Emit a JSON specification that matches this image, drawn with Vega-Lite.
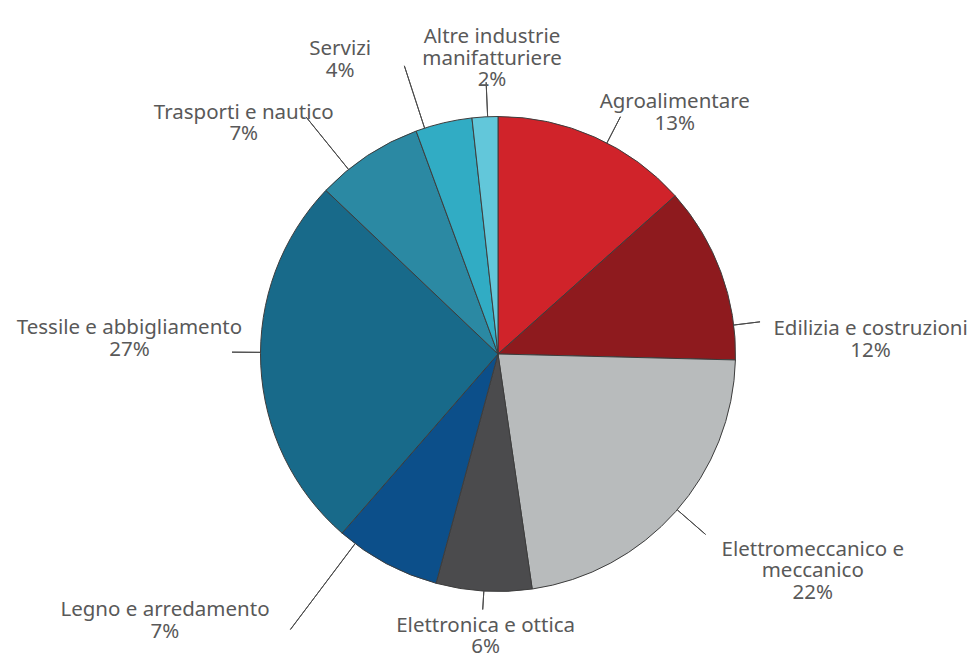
{
  "$schema": "https://vega.github.io/schema/vega-lite/v6.json",
  "width": 958,
  "height": 606,
  "autosize": "none",
  "padding": {"left": 19, "top": 51, "right": 0, "bottom": 0},
  "background": "white",
  "config": {"view": {"stroke": null}},
  "data": {
    "values": [
      {"ord": 1, "settore": "Agroalimentare", "quota": 13.4, "etichetta": "Agroalimentare\n13%"},
      {"ord": 2, "settore": "Edilizia e costruzioni", "quota": 12.0, "etichetta": "Edilizia e costruzioni\n12%"},
      {"ord": 3, "settore": "Elettromeccanico e meccanico", "quota": 22.3, "etichetta": "Elettromeccanico e\nmeccanico\n22%"},
      {"ord": 4, "settore": "Elettronica e ottica", "quota": 6.5, "etichetta": "Elettronica e ottica\n6%"},
      {"ord": 5, "settore": "Legno e arredamento", "quota": 7.2, "etichetta": "Legno e arredamento\n7%"},
      {"ord": 6, "settore": "Tessile e abbigliamento", "quota": 25.7, "etichetta": "Tessile e abbigliamento\n27%"},
      {"ord": 7, "settore": "Trasporti e nautico", "quota": 7.3, "etichetta": "Trasporti e nautico\n7%"},
      {"ord": 8, "settore": "Servizi", "quota": 3.85, "etichetta": "Servizi\n4%"},
      {"ord": 9, "settore": "Altre industrie manifatturiere", "quota": 1.75, "etichetta": "Altre industrie\nmanifatturiere\n2%"}
    ]
  },
  "encoding": {
    "theta": {"field": "quota", "type": "quantitative", "stack": true},
    "order": {"field": "ord", "type": "quantitative"}
  },
  "layer": [
    {
      "mark": {"type": "arc", "outerRadius": 237.5, "stroke": "#3d3d3d", "strokeWidth": 1},
      "encoding": {
        "color": {
          "field": "settore",
          "type": "nominal",
          "legend": null,
          "scale": {
            "domain": ["Agroalimentare", "Edilizia e costruzioni", "Elettromeccanico e meccanico", "Elettronica e ottica", "Legno e arredamento", "Tessile e abbigliamento", "Trasporti e nautico", "Servizi", "Altre industrie manifatturiere"],
            "range": ["#d0232a", "#8e1a1e", "#b8bbbc", "#4b4b4d", "#0c4f8a", "#186a8a", "#2b89a3", "#31acc4", "#62c7da"]
          }
        }
      }
    },
    {"mark": {"type": "arc", "filled": false, "color": "#4a4a4a", "strokeWidth": 1, "padAngle": 3, "innerRadius": 237.5, "outerRadius": 267, "thetaOffset": 0.0555},
     "encoding": {"opacity": {"condition": {"test": "datum.settore === 'Agroalimentare'", "value": 1}, "value": 0}}},
    {"mark": {"type": "arc", "filled": false, "color": "#4a4a4a", "strokeWidth": 1, "padAngle": 3, "innerRadius": 237.5, "outerRadius": 264, "thetaOffset": 0.22968},
     "encoding": {"opacity": {"condition": {"test": "datum.settore === 'Edilizia e costruzioni'", "value": 1}, "value": 0}}},
    {"mark": {"type": "arc", "filled": false, "color": "#4a4a4a", "strokeWidth": 1, "padAngle": 3, "innerRadius": 237.5, "outerRadius": 275, "thetaOffset": -0.01012},
     "encoding": {"opacity": {"condition": {"test": "datum.settore === 'Elettromeccanico e meccanico'", "value": 1}, "value": 0}}},
    {"mark": {"type": "arc", "filled": false, "color": "#4a4a4a", "strokeWidth": 1, "padAngle": 3, "innerRadius": 237.5, "outerRadius": 256, "thetaOffset": 0},
     "encoding": {"opacity": {"condition": {"test": "datum.settore === 'Elettronica e ottica'", "value": 1}, "value": 0}}},
    {"mark": {"type": "arc", "filled": false, "color": "#4a4a4a", "strokeWidth": 1, "padAngle": 3, "innerRadius": 237.5, "outerRadius": 345, "thetaOffset": 0.15568},
     "encoding": {"opacity": {"condition": {"test": "datum.settore === 'Legno e arredamento'", "value": 1}, "value": 0}}},
    {"mark": {"type": "arc", "filled": false, "color": "#4a4a4a", "strokeWidth": 1, "padAngle": 3, "innerRadius": 237.5, "outerRadius": 266, "thetaOffset": 0.0541},
     "encoding": {"opacity": {"condition": {"test": "datum.settore === 'Tessile e abbigliamento'", "value": 1}, "value": 0}}},
    {"mark": {"type": "arc", "filled": false, "color": "#4a4a4a", "strokeWidth": 1, "padAngle": 3, "innerRadius": 237.5, "outerRadius": 305, "thetaOffset": -0.09948},
     "encoding": {"opacity": {"condition": {"test": "datum.settore === 'Trasporti e nautico'", "value": 1}, "value": 0}}},
    {"mark": {"type": "arc", "filled": false, "color": "#4a4a4a", "strokeWidth": 1, "padAngle": 3, "innerRadius": 237.5, "outerRadius": 303, "thetaOffset": -0.0833},
     "encoding": {"opacity": {"condition": {"test": "datum.settore === 'Servizi'", "value": 1}, "value": 0}}},
    {"mark": {"type": "arc", "filled": false, "color": "#4a4a4a", "strokeWidth": 1, "padAngle": 3, "innerRadius": 237.5, "outerRadius": 272, "thetaOffset": 0.01134},
     "encoding": {"opacity": {"condition": {"test": "datum.settore === 'Altre industrie manifatturiere'", "value": 1}, "value": 0}}},
    {
      "mark": {"type": "text", "radius": 301, "thetaOffset": 0.2066, "dy": -8, "align": "center", "baseline": "middle", "font": "Noto Sans", "fontSize": 20.5, "lineHeight": 21.5, "lineBreak": "\n", "color": "#595959"},
      "encoding": {"text": {"field": "etichetta"}, "opacity": {"condition": {"test": "datum.settore === 'Agroalimentare'", "value": 1}, "value": 0}}
    },
    {
      "mark": {"type": "text", "radius": 373, "thetaOffset": 0.3063, "dy": -8, "align": "center", "baseline": "middle", "font": "Noto Sans", "fontSize": 20.5, "lineHeight": 21.5, "lineBreak": "\n", "color": "#595959"},
      "encoding": {"text": {"field": "etichetta"}, "opacity": {"condition": {"test": "datum.settore === 'Edilizia e costruzioni'", "value": 1}, "value": 0}}
    },
    {
      "mark": {"type": "text", "radius": 375, "thetaOffset": -0.151, "dy": -8, "align": "center", "baseline": "middle", "font": "Noto Sans", "fontSize": 20.5, "lineHeight": 21.5, "lineBreak": "\n", "color": "#595959"},
      "encoding": {"text": {"field": "etichetta"}, "opacity": {"condition": {"test": "datum.settore === 'Elettromeccanico e meccanico'", "value": 1}, "value": 0}}
    },
    {
      "mark": {"type": "text", "radius": 280, "thetaOffset": -0.0155, "dy": -8, "align": "center", "baseline": "middle", "font": "Noto Sans", "fontSize": 20.5, "lineHeight": 21, "lineBreak": "\n", "color": "#595959"},
      "encoding": {"text": {"field": "etichetta"}, "opacity": {"condition": {"test": "datum.settore === 'Elettronica e ottica'", "value": 1}, "value": 0}}
    },
    {
      "mark": {"type": "text", "radius": 425, "thetaOffset": 0.4103, "dy": -8, "align": "center", "baseline": "middle", "font": "Noto Sans", "fontSize": 20.5, "lineHeight": 21.5, "lineBreak": "\n", "color": "#595959"},
      "encoding": {"text": {"field": "etichetta"}, "opacity": {"condition": {"test": "datum.settore === 'Legno e arredamento'", "value": 1}, "value": 0}}
    },
    {
      "mark": {"type": "text", "radius": 369, "thetaOffset": 0.0958, "dy": -8, "align": "center", "baseline": "middle", "font": "Noto Sans", "fontSize": 20.5, "lineHeight": 21.5, "lineBreak": "\n", "color": "#595959"},
      "encoding": {"text": {"field": "etichetta"}, "opacity": {"condition": {"test": "datum.settore === 'Tessile e abbigliamento'", "value": 1}, "value": 0}}
    },
    {
      "mark": {"type": "text", "radius": 345, "thetaOffset": -0.2473, "dy": -8, "align": "center", "baseline": "middle", "font": "Noto Sans", "fontSize": 20.5, "lineHeight": 21.5, "lineBreak": "\n", "color": "#595959"},
      "encoding": {"text": {"field": "etichetta"}, "opacity": {"condition": {"test": "datum.settore === 'Trasporti e nautico'", "value": 1}, "value": 0}}
    },
    {
      "mark": {"type": "text", "radius": 336, "thetaOffset": -0.258, "dy": -8, "align": "center", "baseline": "middle", "font": "Noto Sans", "fontSize": 20.5, "lineHeight": 21.5, "lineBreak": "\n", "color": "#595959"},
      "encoding": {"text": {"field": "etichetta"}, "opacity": {"condition": {"test": "datum.settore === 'Servizi'", "value": 1}, "value": 0}}
    },
    {
      "mark": {"type": "text", "radius": 309, "thetaOffset": 0.0356, "dy": -8, "align": "center", "baseline": "middle", "font": "Noto Sans", "fontSize": 20.5, "lineHeight": 21.5, "lineBreak": "\n", "color": "#595959"},
      "encoding": {"text": {"field": "etichetta"}, "opacity": {"condition": {"test": "datum.settore === 'Altre industrie manifatturiere'", "value": 1}, "value": 0}}
    }
  ]
}
